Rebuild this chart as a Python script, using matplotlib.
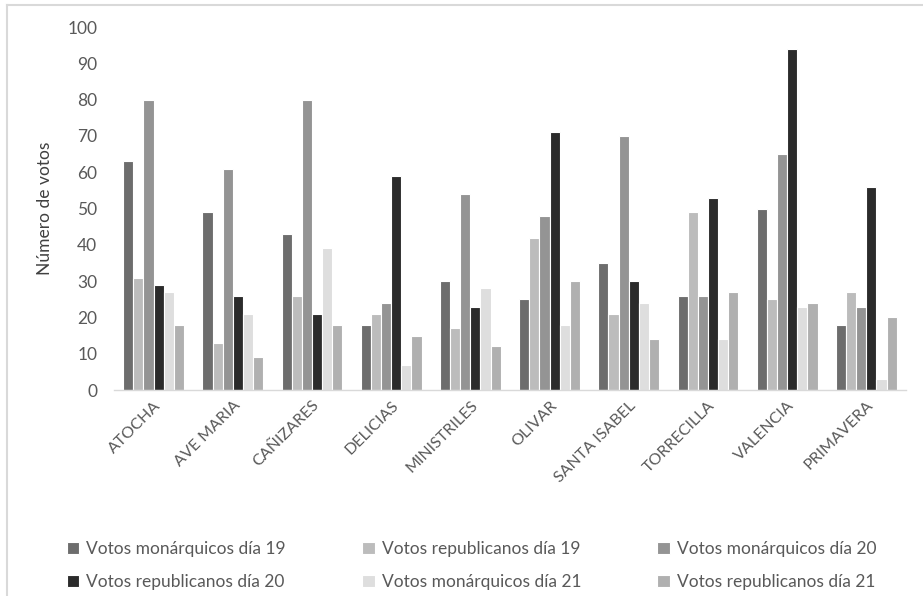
import numpy as np
import matplotlib
matplotlib.use("Agg")
from matplotlib import pyplot as plt
from matplotlib.lines import Line2D

plt.rcParams['font.family'] = ['Lato', 'DejaVu Sans']

barrios = ['ATOCHA', 'AVE MARIA', 'CAÑIZARES', 'DELICIAS', 'MINISTRILES',
           'OLIVAR', 'SANTA ISABEL', 'TORRECILLA', 'VALENCIA', 'PRIMAVERA']

series_names = ['Votos monárquicos día 19', 'Votos republicanos día 19',
                'Votos monárquicos día 20', 'Votos republicanos día 20',
                'Votos monárquicos día 21', 'Votos republicanos día 21']

mon_19 = [63, 49, 43, 18, 30, 25, 35, 26, 50, 18]
rep_19 = [31, 13, 26, 21, 17, 42, 21, 49, 25, 27]
mon_20 = [80, 61, 80, 24, 54, 48, 70, 26, 65, 23]
rep_20 = [29, 26, 21, 59, 23, 71, 30, 53, 94, 56]
mon_21 = [27, 21, 39, 7, 28, 18, 24, 14, 23, 3]
rep_21 = [18, 9, 18, 15, 12, 30, 14, 27, 24, 20]

colores = ['#6d6d6d', '#bcbcbc', '#949494', '#2b2b2b', '#dedede', '#b0b0b0']

datos = [mon_19, rep_19, mon_20, rep_20, mon_21, rep_21]

fig = plt.figure(figsize=(9.23, 5.96), dpi=100)
ax = fig.add_axes([0.1235, 0.3456, 0.858, 0.609])

x = np.arange(len(barrios))
w = 0.128
handles = []
for i, serie in enumerate(datos):
    b = ax.bar(x + (i - 2.5) * w, serie, width=w, color=colores[i],
               edgecolor='white', linewidth=0.8, label=series_names[i])
    handles.append(b)

ax.set_xlim(-0.5, len(barrios) - 0.5)
ax.set_ylim(0, 100)
ax.set_yticks(range(0, 101, 10))
ax.set_xticks(x)
ax.set_xticklabels(barrios, rotation=45, ha='right', rotation_mode='anchor')

for s in ['top', 'right', 'left']:
    ax.spines[s].set_visible(False)
ax.spines['bottom'].set_color('#d9d9d9')
ax.spines['bottom'].set_linewidth(1)
ax.tick_params(axis='both', length=0, colors='#595959')
ax.tick_params(axis='y', labelsize=12.5, pad=12)
ax.tick_params(axis='x', labelsize=11.5, pad=6)
ax.set_ylabel('Número de votos', fontsize=12.5, color='#404040', labelpad=10)

# reorden para que la leyenda se lea por filas
orden = [0, 3, 1, 4, 2, 5]
fig.legend([handles[i] for i in orden], [series_names[i] for i in orden],
           loc='center', bbox_to_anchor=(0.511, 0.051), ncol=3, frameon=False,
           fontsize=12.5, labelcolor='#595959', handlelength=0.7,
           handleheight=0.7, handletextpad=0.4, columnspacing=4.4,
           labelspacing=0.95)

# borde del area del grafico
fig.add_artist(Line2D([0.008, 0.008], [0, 0.992], color='#d9d9d9', lw=1.5,
                      transform=fig.transFigure))
fig.add_artist(Line2D([0.008, 1], [0.992, 0.992], color='#d9d9d9', lw=1.5,
                      transform=fig.transFigure))

fig.savefig('out.png', dpi=100, facecolor='white')
